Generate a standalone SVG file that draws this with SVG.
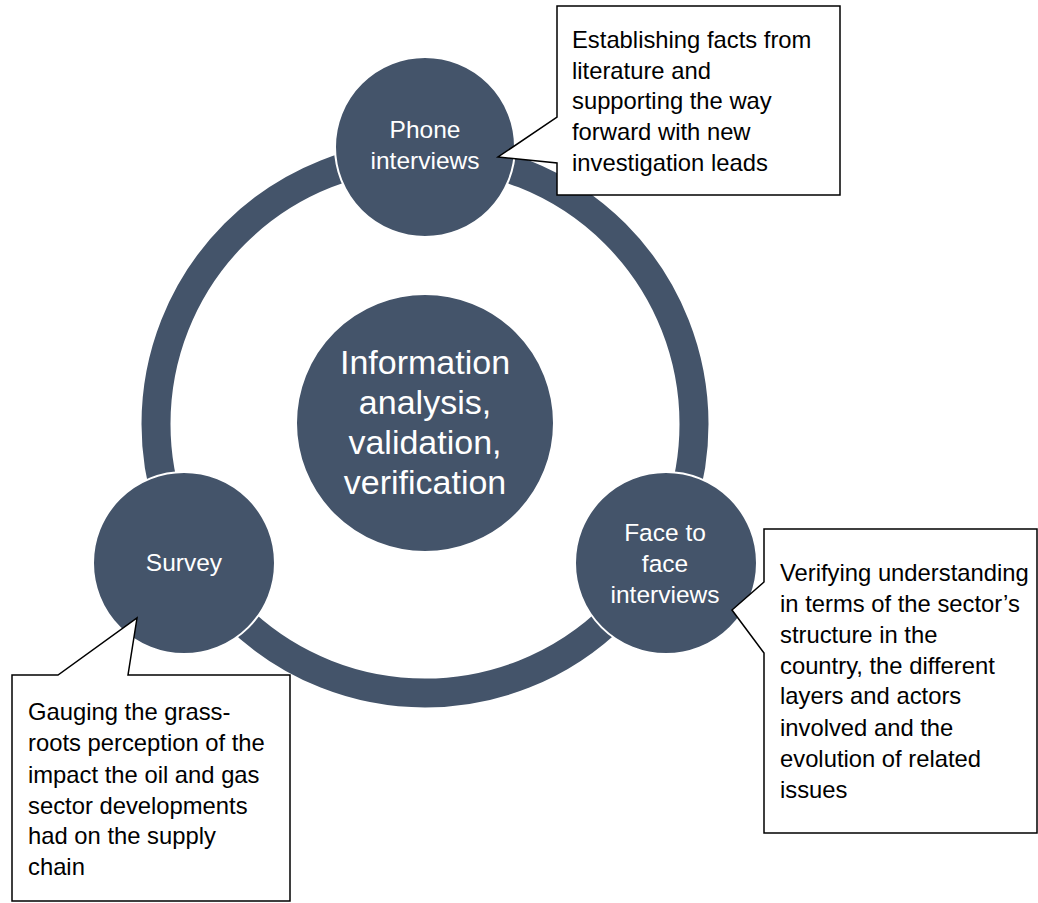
<svg xmlns="http://www.w3.org/2000/svg" width="1038" height="903" viewBox="0 0 1038 903">
<style>
.node{fill:#44546A;stroke:#FFFFFF;stroke-width:2}
.lbl{font-family:"Liberation Sans",Arial,sans-serif;fill:#FFFFFF;text-anchor:middle;font-size:24.5px}
.big{font-size:34px}
.call{fill:#FFFFFF;stroke:#000000;stroke-width:1.5;stroke-linejoin:miter}
.ct{font-family:"Liberation Sans",Arial,sans-serif;fill:#000000;font-size:23.8px}
</style>
<rect width="1038" height="903" fill="#FFFFFF"/>
<g id="connectors">
<circle cx="425" cy="424" r="269" fill="none" stroke="#44546A" stroke-width="29"/>
</g>
<g id="center">
<circle class="node" cx="425" cy="423" r="129"/>
<text class="lbl big" x="425" y="374">Information</text>
<text class="lbl big" x="425" y="414">analysis,</text>
<text class="lbl big" x="425" y="454">validation,</text>
<text class="lbl big" x="425" y="494">verification</text>
</g>
<g id="phone">
<circle class="node" cx="425" cy="147" r="90"/>
<text class="lbl" x="425" y="138">Phone</text>
<text class="lbl" x="425" y="169">interviews</text>
</g>
<g id="survey">
<circle class="node" cx="184" cy="563" r="91"/>
<text class="lbl" x="184" y="571">Survey</text>
</g>
<g id="face">
<circle class="node" cx="666" cy="563" r="91"/>
<text class="lbl" x="665" y="541">Face to</text>
<text class="lbl" x="665" y="572">face</text>
<text class="lbl" x="665" y="603">interviews</text>
</g>
<g id="callout-phone">
<path class="call" d="M557,6 H840 V195 H557 V163 L498,157 L557,117 Z"/>
<text class="ct" x="572" y="48">Establishing facts from</text>
<text class="ct" x="572" y="79">literature and</text>
<text class="ct" x="572" y="109">supporting the way</text>
<text class="ct" x="572" y="140">forward with new</text>
<text class="ct" x="572" y="171">investigation leads</text>
</g>
<g id="callout-face">
<path class="call" d="M764,529 H1037 V833 H764 V653 L732,610 L764,582 Z"/>
<text class="ct" x="780" y="581">Verifying understanding</text>
<text class="ct" x="780" y="612">in terms of the sector’s</text>
<text class="ct" x="780" y="643">structure in the</text>
<text class="ct" x="780" y="674">country, the different</text>
<text class="ct" x="780" y="704">layers and actors</text>
<text class="ct" x="780" y="736">involved and the</text>
<text class="ct" x="780" y="767">evolution of related</text>
<text class="ct" x="780" y="798">issues</text>
</g>
<g id="callout-survey">
<path class="call" d="M12,675 H58 L137,618 L128,675 H290 V901 H12 Z"/>
<text class="ct" x="28" y="720">Gauging the grass-</text>
<text class="ct" x="28" y="751">roots perception of the</text>
<text class="ct" x="28" y="783">impact the oil and gas</text>
<text class="ct" x="28" y="814">sector developments</text>
<text class="ct" x="28" y="844">had on the supply</text>
<text class="ct" x="28" y="875">chain</text>
</g>
</svg>
